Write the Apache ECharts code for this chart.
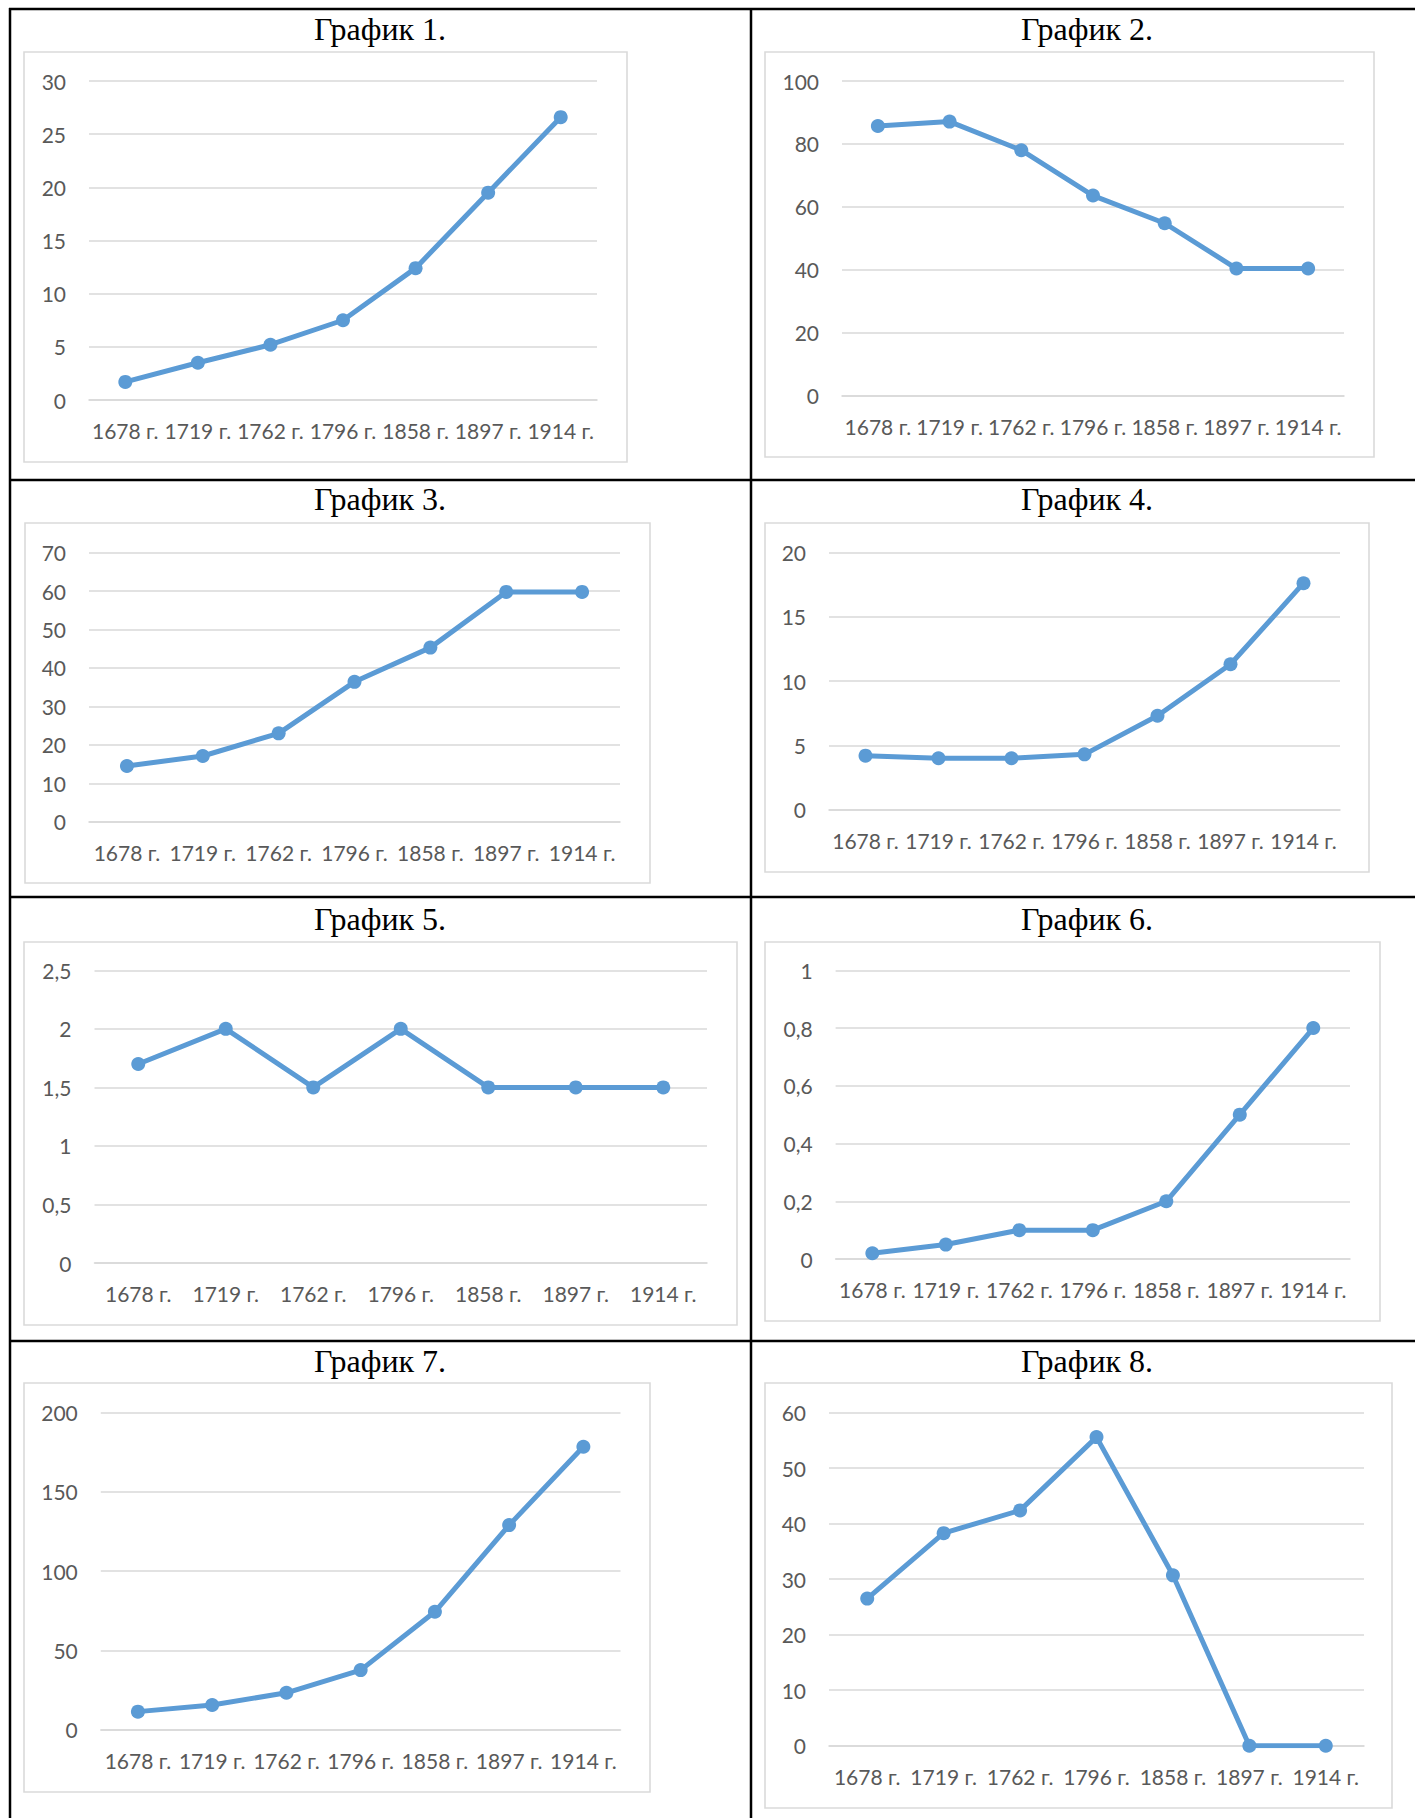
<!DOCTYPE html>
<html>
<head>
<meta charset="utf-8">
<script src="https://cdn.jsdelivr.net/npm/echarts@6/dist/echarts.min.js"></script>
<style>
  html, body { margin: 0; padding: 0; background: #ffffff; }
  #main { width: 1415px; height: 1818px; }
</style>
</head>
<body>
<div id="main"></div>
<script>
// ---------------- DATA ----------------
const categories = ['1678 г.', '1719 г.', '1762 г.', '1796 г.', '1858 г.', '1897 г.', '1914 г.'];
const titles = ['График 1.', 'График 2.', 'График 3.', 'График 4.', 'График 5.', 'График 6.', 'График 7.', 'График 8.'];
const chart1Values = [1.7, 3.5, 5.2, 7.5, 12.4, 19.5, 26.6];
const chart2Values = [85.7, 87.1, 78.0, 63.6, 54.8, 40.4, 40.4];
const chart3Values = [14.5, 17.1, 23.0, 36.4, 45.3, 59.8, 59.8];
const chart4Values = [4.2, 4.0, 4.0, 4.3, 7.3, 11.3, 17.6];
const chart5Values = [1.7, 2, 1.5, 2, 1.5, 1.5, 1.5];
const chart6Values = [0.02, 0.05, 0.1, 0.1, 0.2, 0.5, 0.8];
const chart7Values = [11.4, 15.6, 23.3, 37.6, 74.4, 129.1, 178.5];
const chart8Values = [26.5, 38.3, 42.4, 55.6, 30.7, 0, 0];
const yAxisMax = [30, 100, 70, 20, 2.5, 1, 200, 60];
const yAxisInterval = [5, 20, 10, 5, 0.5, 0.2, 50, 10];

const allValues = [chart1Values, chart2Values, chart3Values, chart4Values,
                   chart5Values, chart6Values, chart7Values, chart8Values];

// ---------------- LAYOUT ----------------
const gridBoxes = [
  { left: 89,    top: 81,     width: 508,   height: 319 },
  { left: 842,   top: 81,     width: 502,   height: 314.7 },
  { left: 89,    top: 552.7,  width: 531,   height: 269 },
  { left: 829,   top: 552.3,  width: 511,   height: 257.4 },
  { left: 94.5,  top: 970.3,  width: 612.5, height: 292.7 },
  { left: 835.6, top: 970.3,  width: 514.4, height: 288.7 },
  { left: 100.8, top: 1412.7, width: 519.7, height: 317 },
  { left: 829,   top: 1412.7, width: 535,   height: 333 }
];
const chartAreaBoxes = [
  { x: 24, y: 52,   w: 603, h: 410 },
  { x: 765, y: 52,  w: 609, h: 405 },
  { x: 25, y: 523,  w: 625, h: 360 },
  { x: 765, y: 523, w: 604, h: 349 },
  { x: 24, y: 942,  w: 713, h: 383 },
  { x: 765, y: 942, w: 615, h: 379 },
  { x: 24, y: 1383, w: 626, h: 409 },
  { x: 765, y: 1383, w: 627, h: 425 }
];
const titlePos = [
  { x: 380, y: 12.8 }, { x: 1087, y: 12.8 },
  { x: 380, y: 483.2 }, { x: 1087, y: 483.2 },
  { x: 380, y: 902.8 }, { x: 1087, y: 902.8 },
  { x: 380, y: 1344.5 }, { x: 1087, y: 1344.5 }
];
const rowLinesY = [9, 480, 897, 1341];
const colLinesX = [10, 751];

const BLUE = '#5B9BD5';
const GRID_GREY = '#D9D9D9';
const LABEL_GREY = '#595959';
const LABEL_FONT = 'Lato, "Open Sans", sans-serif';

function fmtNum(v) {
  return String(+Number(v).toFixed(2)).replace('.', ',');
}

const grid = [], xAxis = [], yAxis = [], series = [], title = [];
for (let i = 0; i < 8; i++) {
  grid.push(Object.assign({ containLabel: false }, gridBoxes[i]));
  xAxis.push({
    type: 'category',
    gridIndex: i,
    data: categories,
    boundaryGap: true,
    axisLine: { show: true, lineStyle: { color: GRID_GREY, width: 1.6 } },
    axisTick: { show: false },
    axisLabel: {
      interval: 0,
      hideOverlap: false,
      margin: 20,
      color: LABEL_GREY,
      fontFamily: LABEL_FONT,
      fontSize: 21,
      lineHeight: 21
    },
    splitLine: { show: false }
  });
  yAxis.push({
    type: 'value',
    gridIndex: i,
    min: 0,
    max: yAxisMax[i],
    interval: yAxisInterval[i],
    axisLine: { show: false },
    axisTick: { show: false },
    axisLabel: {
      margin: 23,
      color: LABEL_GREY,
      fontFamily: LABEL_FONT,
      fontSize: 21,
      formatter: fmtNum
    },
    splitLine: { show: true, lineStyle: { color: GRID_GREY, width: 1.6 } }
  });
  series.push({
    type: 'line',
    xAxisIndex: i,
    yAxisIndex: i,
    data: allValues[i],
    symbol: 'circle',
    symbolSize: 14,
    lineStyle: { color: BLUE, width: 5 },
    itemStyle: { color: BLUE },
    animation: false
  });
  title.push({
    text: titles[i],
    left: titlePos[i].x,
    top: titlePos[i].y,
    padding: 0,
    textAlign: 'center',
    textStyle: {
      fontFamily: '"Liberation Serif", "Times New Roman", serif',
      fontSize: 32,
      lineHeight: 32,
      fontWeight: 'normal',
      color: '#000000'
    }
  });
}

const graphic = [];
chartAreaBoxes.forEach(b => {
  graphic.push({
    type: 'rect',
    silent: true,
    z: -1,
    shape: { x: b.x, y: b.y, width: b.w, height: b.h },
    style: { fill: '#ffffff', stroke: '#DADADA', lineWidth: 1.6 }
  });
});
rowLinesY.forEach(y => {
  graphic.push({
    type: 'line', silent: true, z: 10,
    shape: { x1: colLinesX[0] - 1, y1: y, x2: 1415, y2: y },
    style: { stroke: '#000000', lineWidth: 2.5 }
  });
});
colLinesX.forEach(x => {
  graphic.push({
    type: 'line', silent: true, z: 10,
    shape: { x1: x, y1: rowLinesY[0] - 1, x2: x, y2: 1818 },
    style: { stroke: '#000000', lineWidth: 2.5 }
  });
});

const chart = echarts.init(document.getElementById('main'), null, { renderer: 'svg', width: 1415, height: 1818 });
chart.setOption({
  backgroundColor: '#ffffff',
  animation: false,
  title: title,
  grid: grid,
  xAxis: xAxis,
  yAxis: yAxis,
  series: series,
  graphic: graphic
});
</script>
</body>
</html>
